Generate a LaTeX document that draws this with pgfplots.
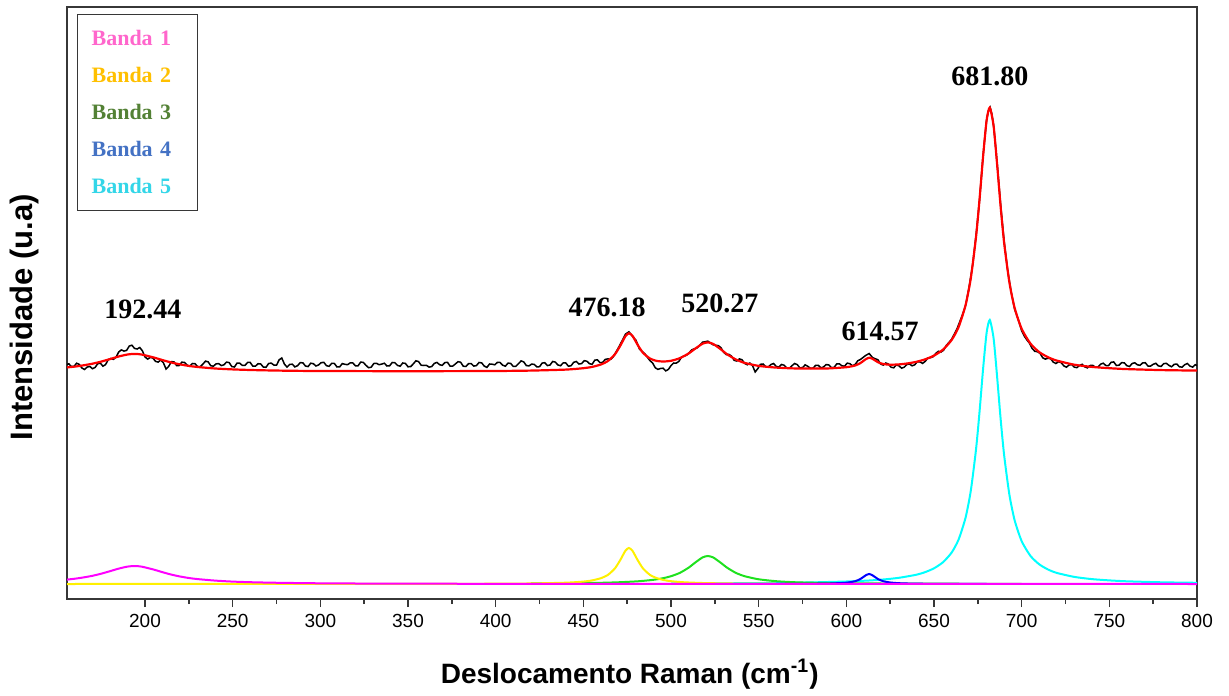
\documentclass[border=0pt]{standalone}
\usepackage{fontspec}
\setmainfont{Liberation Sans}
\newfontfamily\serifbf{Liberation Serif}
\usepackage{pgfplots}
\pgfplotsset{compat=1.18}

\definecolor{bandpink}{RGB}{255,102,204}
\definecolor{bandgold}{RGB}{255,192,0}
\definecolor{bandgreen}{RGB}{83,129,53}
\definecolor{bandblue}{RGB}{68,114,196}
\definecolor{bandcyan}{RGB}{51,214,232}
\definecolor{framegray}{RGB}{55,55,55}
\definecolor{compyellow}{RGB}{255,240,0}
\definecolor{compgreen}{RGB}{30,225,30}
\definecolor{compblue}{RGB}{0,0,255}
\definecolor{compcyan}{RGB}{0,255,255}
\definecolor{compmagenta}{RGB}{255,0,255}
\definecolor{fitred}{RGB}{255,0,0}

% measured spectrum
\pgfplotstableread{
x y
155 235.3
156.5 236.2
158 233.5
159.5 233.6
161 236.8
162.5 235.6
164 232.0
165.5 230.5
167 232.9
168.5 233.6
170 231.3
171.5 232.5
173 236.2
174.5 236.9
176 233.8
177.5 235.4
179 240.3
180.5 241.5
182 240.6
183.5 242.9
185 248.0
186.5 250.1
188 248.9
189.5 249.6
191 253.9
192.5 254.8
194 251.6
195.5 251.0
197 252.5
198.5 249.2
200 243.0
201.5 240.9
203 242.6
204.5 241.9
206 238.6
207.5 237.9
209 240.1
210.5 237.2
212 230.9
213.5 233.6
215 238.3
216.5 238.2
218 234.4
219.5 234.5
221 237.8
222.5 237.6
224 234.9
225.5 233.7
227 236.5
228.5 236.4
230 233.3
231.5 233.3
233 235.9
234.5 238.9
236 238.1
237.5 234.3
239 233.8
240.5 236.1
242 236.4
243.5 234.4
245 235.2
246.5 237.9
248 237.4
249.5 233.4
251 233.0
252.5 236.9
254 236.8
255.5 234.6
257 234.6
258.5 237.5
260 237.5
261.5 233.8
263 233.9
264.5 236.3
266 236.0
267.5 232.9
269 232.7
270.5 236.5
272 236.9
273.5 234.9
275 234.8
276.5 240.2
278 242.0
279.5 235.9
281 232.9
282.5 235.6
284 235.8
285.5 233.1
287 234.3
288.5 237.3
290 237.2
291.5 234.0
293 233.4
294.5 236.8
296 236.3
297.5 234.0
299 235.1
300.5 237.4
302 237.6
303.5 234.3
305 233.7
306.5 236.7
308 236.5
309.5 233.0
311 233.1
312.5 236.4
314 235.7
315.5 235.3
317 237.1
318.5 237.1
320 234.2
321.5 234.2
323 237.9
324.5 237.6
326 234.7
327.5 232.3
329 232.8
330.5 236.5
332 236.7
333.5 235.3
335 235.9
336.5 236.8
338 234.0
339.5 234.2
341 237.5
342.5 237.3
344 234.6
345.5 233.8
347 237.0
348.5 236.6
350 233.2
351.5 233.4
353 236.1
354.5 239.2
356 238.4
357.5 234.8
359 234.5
360.5 234.7
362 232.9
363.5 233.4
365 236.6
366.5 237.6
368 235.3
369.5 234.6
371 237.4
372.5 237.7
374 233.9
375.5 233.9
377 236.0
378.5 238.3
380 237.8
381.5 233.8
383 233.5
384.5 236.3
386 236.4
387.5 233.9
389 234.4
390.5 237.5
392 237.1
393.5 233.9
395 232.6
396.5 236.0
398 235.8
399.5 235.2
401 237.7
402.5 237.5
404 234.8
405.5 233.8
407 236.8
408.5 236.7
410 233.6
411.5 233.7
413 236.3
414.5 239.1
416 238.1
417.5 234.4
419 234.1
420.5 235.9
422 235.6
423.5 233.1
425 233.3
426.5 236.9
428 237.3
429.5 234.4
431 235.0
432.5 238.5
434 237.9
435.5 235.0
437 234.3
438.5 237.1
440 237.0
441.5 233.8
443 234.3
444.5 237.7
446 238.5
447.5 236.0
449 236.4
450.5 239.3
452 238.8
453.5 236.3
455 235.7
456.5 239.8
458 240.2
459.5 237.3
461 237.6
462.5 240.6
464 241.1
465.5 240.6
467 243.0
470 252.2
472 258.9
474 265.8
476 268.2
478 263.8
480 259.8
482 250.9
485 246.3
488 239.3
489.5 237.0
491 232.3
492.5 230.6
494 231.5
495.5 231.8
497 229.1
498.5 230.6
500 234.4
501.5 237.0
503 236.9
504.5 238.6
506 243.0
509 244.9
512 250.3
515 252.2
518 257.8
521 258.8
524 255.2
527 254.3
528.5 252.3
530 247.8
531.5 245.4
533 245.6
534.5 243.9
536 239.7
537.5 239.0
539 241.1
540.5 240.2
542 236.6
543.5 235.2
545 237.0
546.5 234.3
548 228.0
549.5 231.4
551 235.7
552.5 236.0
554 233.3
555.5 233.1
557 235.5
558.5 236.5
560 233.6
561.5 232.9
563 235.5
564.5 234.8
566 232.0
567.5 231.8
569 234.3
570.5 236.5
572 235.4
573.5 232.1
575 232.4
576.5 235.1
578 233.7
579.5 231.7
581 231.8
582.5 234.7
584 234.7
585.5 232.0
587 233.1
588.5 235.4
590 235.1
591.5 232.4
593 232.6
594.5 236.1
596 236.2
597.5 234.1
599 233.9
600.5 236.9
602 236.3
603.5 234.3
605 235.5
606.5 239.2
608 240.5
611 244.5
613 246.5
615 242.3
618 240.2
619.5 236.1
621 234.9
622.5 237.0
624 235.9
625.5 232.8
627 232.2
628.5 235.1
630 234.2
631.5 231.8
633 232.8
634.5 235.4
636 236.0
637.5 234.2
639 235.2
640.5 238.3
642 238.1
643.5 236.6
645 238.7
646.5 242.0
648 242.3
649.5 243.3
651 246.6
652.5 248.7
654 248.0
655.5 249.8
657 254.5
660 260.6
663 270.7
666 284.2
668 294.4
670 313.0
672 334.7
674 365.2
676 400.4
678 445.1
680 480.2
681 488.9
682 492.6
683 486.0
684 474.4
686 437.0
688 395.4
690 358.5
692 329.8
694 308.0
696 290.7
698 280.7
700 269.1
701.5 263.8
703 260.0
704.5 256.7
706 251.4
707.5 248.7
709 248.3
710.5 246.6
712 242.2
713.5 240.9
715 241.7
716.5 241.3
718 237.9
719.5 236.5
721 238.2
722.5 237.4
724 234.2
725.5 232.8
727 235.0
728.5 235.4
730 232.8
731.5 232.4
733 234.5
734.5 235.7
736 233.1
737.5 232.1
739 234.5
740.5 234.7
742 232.8
743.5 232.9
745 235.8
746.5 236.8
748 234.5
749.5 234.3
751 237.7
752.5 238.1
754 234.5
755.5 234.8
757 237.3
758.5 237.2
760 234.3
761.5 233.5
763 236.5
764.5 237.2
766 235.2
767.5 234.7
769 237.1
770.5 237.3
772 234.0
773.5 233.9
775 235.7
776.5 236.7
778 234.1
779.5 233.6
781 236.3
782.5 236.7
784 234.6
785.5 233.2
787 235.7
788.5 235.9
790 233.1
791.5 232.9
793 235.3
794.5 236.5
796 233.9
797.5 232.9
799 235.3
800 234.4
}\spectrum

% cumulative fit
\pgfplotstableread{
x y
155 232.5
160 233.4
165 234.7
170 236.3
175 238.4
180 240.9
185 243.5
190 245.5
194 246.1
198 245.5
205 242.5
210 239.9
215 237.5
220 235.6
225 234.1
230 233.0
240 231.5
250 230.6
260 230.0
270 229.6
280 229.3
290 229.1
300 229.0
320 228.9
340 228.8
360 228.8
380 228.9
400 229.0
420 229.4
440 230.4
450 231.8
455 233.1
460 235.5
464 239.0
468 245.7
471 254.1
474 263.8
476 266.7
478 264.2
481 255.1
484 247.2
488 241.5
492 239.0
496 238.5
500 239.2
505 241.8
510 246.5
514 251.6
518 256.3
521 257.6
524 256.1
528 251.2
532 245.7
537 240.5
542 237.1
550 234.1
560 232.4
570 231.6
580 231.4
590 231.6
600 232.8
605 234.5
608 236.9
611 240.7
613 242.3
615 241.1
618 237.8
621 236.0
625 235.3
630 235.6
635 236.6
640 238.2
645 240.7
650 244.4
655 250.2
660 259.9
664 272.9
668 294.9
671 322.0
674 363.7
676 401.4
678 443.8
680 479.7
681.8 492.4
684 473.8
686 435.2
688 393.2
690 357.0
693 317.5
696 291.9
700 271.1
705 256.4
710 247.9
715 242.8
720 239.4
730 235.3
740 233.1
750 231.8
760 230.9
780 229.9
800 229.4
}\fit

\pgfplotstableread{
x y
155 20.3
160 21.3
165 22.6
170 24.2
175 26.3
180 28.8
185 31.4
190 33.4
194 34.0
198 33.4
205 30.4
210 27.8
215 25.4
220 23.5
225 22.0
230 20.9
240 19.4
250 18.4
260 17.8
270 17.4
280 17.1
290 16.9
300 16.7
320 16.5
340 16.4
360 16.3
400 16.2
450 16.1
550 16.1
650 16.05
800 16.0
}\bandone

\pgfplotstableread{
x y
155 16.0
300 16.06
380 16.2
400 16.3
420 16.55
440 17.3
450 18.4
455 19.6
460 21.8
464 25.1
468 31.6
471 39.8
474 49.3
476 52.0
478 49.3
481 39.8
484 31.6
488 25.1
492 21.8
496 19.9
500 18.8
505 18.0
510 17.5
520 16.9
540 16.4
560 16.25
}\bandtwo

\pgfplotstableread{
x y
420 16.5
440 16.7
460 17.2
471 17.8
481 18.7
488 19.8
492 20.7
496 22.0
500 23.8
505 27.1
510 32.3
514 37.7
518 42.6
521 44.0
524 42.6
528 37.7
532 32.3
537 27.1
542 23.8
550 20.7
560 18.8
570 17.8
580 17.3
600 16.7
620 16.5
650 16.3
700 16.15
}\bandthree

\pgfplotstableread{
x y
560 16.1
580 16.2
590 16.45
600 17.3
605 18.8
608 21.0
611 24.6
613 26.0
615 24.6
618 21.0
621 18.8
625 17.5
630 16.8
635 16.5
640 16.3
650 16.2
680 16.05
}\bandfour

\pgfplotstableread{
x y
500 16.5
520 16.6
540 16.8
560 17.1
580 17.6
600 18.5
613 19.5
621 20.5
630 22.2
640 25.3
645 27.9
650 31.7
655 37.6
660 47.3
664 60.4
668 82.4
671 109.5
674 151.3
676 189.0
678 231.4
680 267.3
681.8 280.0
684 261.4
686 222.9
688 180.9
690 144.7
693 105.2
696 79.6
700 58.8
705 44.1
710 35.7
715 30.5
720 27.1
730 23.1
740 20.9
750 19.6
760 18.7
780 17.7
800 17.2
}\bandfive

\begin{document}
\begin{tikzpicture}
\begin{axis}[
  scale only axis, width=565pt, height=296pt,
  xmin=155.5, xmax=800, ymin=1, ymax=593,
  xtick={200,250,...,800}, minor x tick num=1,
  ytick=\empty,
  xtick pos=bottom, tick align=outside,
  major tick length=4pt, minor tick length=2.5pt,
  axis line style={draw=framegray, line width=1.1pt},
  tick style={draw=framegray, line width=0.8pt},
  tick label style={font=\fontsize{9.5}{11}\selectfont},
  /pgf/number format/assume math mode=true,
  xlabel={Deslocamento Raman (cm\textsuperscript{-1})},
  ylabel={Intensidade (u.a)},
  xlabel style={font=\bfseries\fontsize{14}{16}\selectfont,
    at={(axis description cs:0.498,-0.142)}, anchor=base},
  ylabel style={font=\bfseries\fontsize{15.5}{17}\selectfont,
    at={(axis description cs:-0.0301,0.476)}, anchor=base},
]
\addplot[compcyan, line width=1pt, smooth, tension=0.4] table {\bandfive};
\addplot[compgreen, line width=1pt, smooth, tension=0.4] table {\bandthree};
\addplot[compyellow, line width=1pt, smooth, tension=0.4] table {\bandtwo};
\addplot[compblue, line width=1pt, smooth, tension=0.4] table {\bandfour};
\addplot[compmagenta, line width=1pt, smooth, tension=0.4] table {\bandone};
\addplot[black, line width=0.75pt] table {\spectrum};
\addplot[fitred, line width=1.1pt, smooth, tension=0.4] table {\fit};

\node[font=\serifbf\bfseries\fontsize{14}{16}\selectfont] at (axis cs:198.8,291) {192.44};
\node[font=\serifbf\bfseries\fontsize{14}{16}\selectfont] at (axis cs:463.5,293) {476.18};
\node[font=\serifbf\bfseries\fontsize{14}{16}\selectfont] at (axis cs:527.9,297) {520.27};
\node[font=\serifbf\bfseries\fontsize{14}{16}\selectfont] at (axis cs:619.2,269) {614.57};
\node[font=\serifbf\bfseries\fontsize{14}{16}\selectfont] at (axis cs:681.9,523.5) {681.80};

\node[draw=framegray, line width=0.6pt, fill=white, anchor=north west,
  inner xsep=7pt, inner ysep=8pt, text width=46pt, align=left,
  font=\serifbf\bfseries\fontsize{11}{18.5}\selectfont]
  at (axis description cs:0.00885,0.988)
  {{\color{bandpink}Banda 1}\\{\color{bandgold}Banda 2}\\{\color{bandgreen}Banda 3}\\{\color{bandblue}Banda 4}\\{\color{bandcyan}Banda 5}};
\end{axis}
\pgfresetboundingbox
\path[use as bounding box] ([xshift=-33.5pt,yshift=-48pt]current axis.south west)
  rectangle ([xshift=16pt,yshift=3.5pt]current axis.north east);
\end{tikzpicture}
\end{document}
